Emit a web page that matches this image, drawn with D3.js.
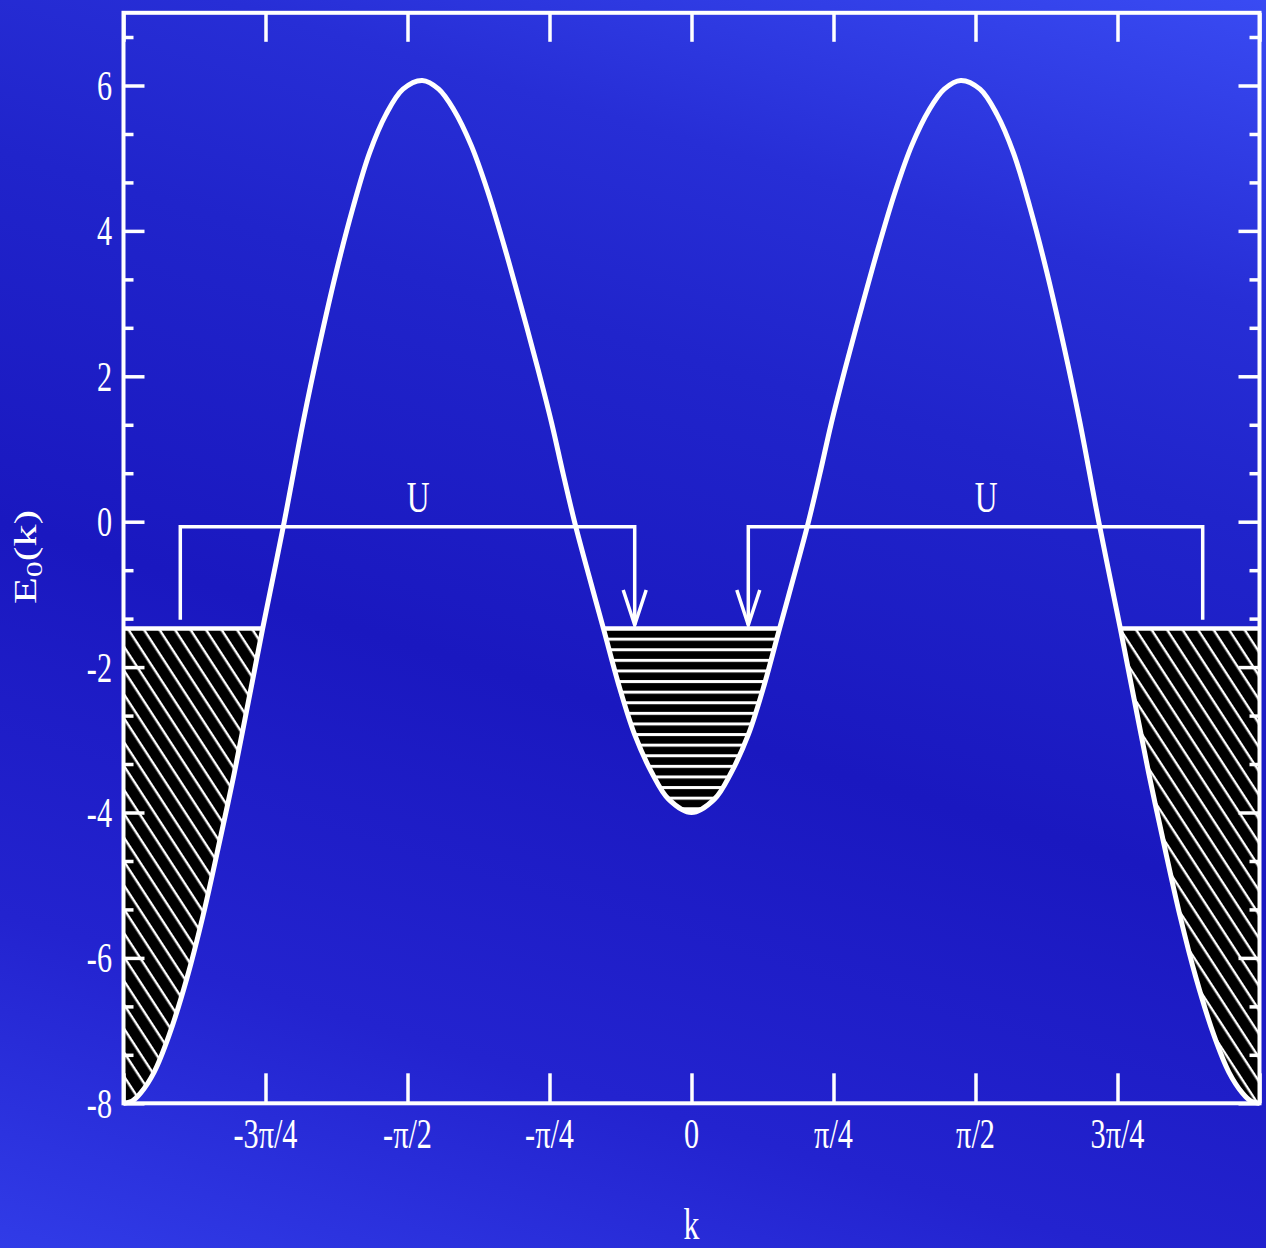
<!DOCTYPE html>
<html>
<head>
<meta charset="utf-8">
<script src="https://cdn.jsdelivr.net/npm/d3@7"></script>
<style>
  html, body { margin: 0; padding: 0; background: #1c1cc4; }
  svg { display: block; }
  text { font-family: "Liberation Serif", "Times New Roman", serif; fill: #ffffff; }
</style>
</head>
<body>
<script>
// Band energy E0(k) over the Brillouin zone, k in units of pi
const kPi = [
  -1, -0.985, -0.97, -0.946, -0.92, -0.888, -0.86, -0.83, -0.805, -0.78, -0.755,
  -0.717, -0.683, -0.656, -0.626, -0.596, -0.567, -0.538, -0.508, -0.474, -0.445,
  -0.418, -0.388, -0.359, -0.33, -0.30, -0.271, -0.246, -0.226, -0.205, -0.18,
  -0.155, -0.126, -0.10, -0.07, -0.04, 0,
  0.04, 0.07, 0.10, 0.126, 0.155, 0.18, 0.205, 0.226, 0.246, 0.271, 0.30, 0.33,
  0.359, 0.388, 0.418, 0.445, 0.474, 0.508, 0.538, 0.567, 0.596, 0.626, 0.656,
  0.683, 0.717, 0.755, 0.78, 0.805, 0.83, 0.86, 0.888, 0.92, 0.946, 0.97, 0.985, 1
];
const energy = [
  -8, -7.97, -7.86, -7.57, -7.07, -6.27, -5.42, -4.37, -3.46, -2.47, -1.47,
  0.00, 1.40, 2.40, 3.42, 4.32, 5.07, 5.60, 5.95, 6.07, 5.95,
  5.66, 5.18, 4.55, 3.80, 2.96, 2.12, 1.35, 0.66, -0.03, -0.76,
  -1.47, -2.30, -2.93, -3.45, -3.82, -4.0,
  -3.82, -3.45, -2.93, -2.30, -1.47, -0.76, -0.03, 0.66, 1.35, 2.12, 2.96, 3.80,
  4.55, 5.18, 5.66, 5.95, 6.07, 5.95, 5.60, 5.07, 4.32, 3.42, 2.40,
  1.40, 0.00, -1.47, -2.47, -3.46, -4.37, -5.42, -6.27, -7.07, -7.57, -7.86, -7.97, -8
];

// Filling level of the occupied states
const fillLevel = -1.47;

// Pair-hopping brackets: tail end, arrow end, height of the bar, tail bottom, arrow tip
const bracketTailK = [-0.9, 0.9];
const bracketHeadK = [-0.1, 0.1];
const bracketE = -0.07;
const bracketTailE = -1.35;
const bracketTipE = -1.42;
const bracketLabel = ["U", "U"];
const bracketLabelK = [-0.481, 0.519];

// Axes
const xTickValues = [-1, -0.75, -0.5, -0.25, 0, 0.25, 0.5, 0.75, 1];
const xTickLabels = ["", "-3π/4", "-π/2", "-π/4", "0", "π/4", "π/2", "3π/4", ""];
const yMajorValues = [-8, -6, -4, -2, 0, 2, 4, 6];
const yMajorLabels = ["-8", "-6", "-4", "-2", "0", "2", "4", "6"];
const yMinorValues = [-7.333, -6.667, -5.333, -4.667, -3.333, -2.667, -1.333, -0.667,
                      0.667, 1.333, 2.667, 3.333, 4.667, 5.333, 6.667];
const xTitle = "k";

const W = 1266, H = 1248;
const squeeze = 0.72;   // condensed glyph width

const x = d3.scaleLinear().domain([-1, 1]).range([123.5, 1259.5]);
const y = d3.scaleLinear().domain([-8, 7]).range([1103.3, 12.8]);

const svg = d3.select("body").append("svg").attr("width", W).attr("height", H);
const defs = svg.append("defs");

// background: dark band running slightly downhill across the page
const bg = defs.append("linearGradient").attr("id", "bg")
  .attr("gradientUnits", "userSpaceOnUse")
  .attr("x1", 500).attr("y1", 1500).attr("x2", 1100).attr("y2", -500);
[[0, "#3543ef"], [0.2, "#2323cf"], [0.38, "#1a18c0"], [0.55, "#2024cb"],
 [0.65, "#272ed6"], [0.8, "#3a4cf4"], [1, "#3f55f8"]]
  .forEach(([o, c]) => bg.append("stop").attr("offset", o).attr("stop-color", c));
svg.append("rect").attr("width", W).attr("height", H).attr("fill", "url(#bg)");

// hatch patterns
const diag = defs.append("pattern").attr("id", "diagHatch")
  .attr("patternUnits", "userSpaceOnUse").attr("width", 13).attr("height", 13)
  .attr("patternTransform", "rotate(57)");
diag.append("rect").attr("width", 13).attr("height", 13).attr("fill", "#000");
diag.append("rect").attr("width", 13).attr("height", 2.4).attr("fill", "#fff");

const horiz = defs.append("pattern").attr("id", "horizHatch")
  .attr("patternUnits", "userSpaceOnUse").attr("width", 20).attr("height", 10.6)
  .attr("y", y(fillLevel) - 1.5);
horiz.append("rect").attr("width", 20).attr("height", 10.6).attr("fill", "#000");
horiz.append("rect").attr("width", 20).attr("height", 3).attr("fill", "#fff");

const pts = kPi.map((k, i) => ({ k, e: energy[i] }));
const curve = d3.curveCatmullRom.alpha(0.5);

// clip regions below the filling level
const clipTop = y(fillLevel) + 1.5;
const outerClip = defs.append("clipPath").attr("id", "outerClip");
outerClip.append("rect").attr("x", x(-1)).attr("y", clipTop)
  .attr("width", x(-0.5) - x(-1)).attr("height", y(-8) - clipTop);
outerClip.append("rect").attr("x", x(0.5)).attr("y", clipTop)
  .attr("width", x(1) - x(0.5)).attr("height", y(-8) - clipTop);
const innerClip = defs.append("clipPath").attr("id", "innerClip");
innerClip.append("rect").attr("x", x(-0.5)).attr("y", clipTop)
  .attr("width", x(0.5) - x(-0.5)).attr("height", y(-8) - clipTop);

// region lying above the band curve
const aboveCurve = d3.area().x(d => x(d.k)).y0(y(7)).y1(d => y(d.e)).curve(curve);
defs.append("clipPath").attr("id", "aboveClip").append("path").attr("d", aboveCurve(pts));

const fillArea = d3.area().x(d => x(d.k)).y0(y(fillLevel)).y1(d => y(d.e)).curve(curve);
svg.append("path").attr("d", fillArea(pts)).attr("fill", "url(#diagHatch)")
  .attr("clip-path", "url(#outerClip)");
svg.append("path").attr("d", fillArea(pts)).attr("fill", "url(#horizHatch)")
  .attr("clip-path", "url(#innerClip)");

// tops of the filled pockets
svg.append("line").attr("x1", x(-1)).attr("x2", x(1))
  .attr("y1", y(fillLevel)).attr("y2", y(fillLevel))
  .attr("stroke", "#fff").attr("stroke-width", 4.5)
  .attr("clip-path", "url(#aboveClip)");

// band curve
const line = d3.line().x(d => x(d.k)).y(d => y(d.e)).curve(curve);
svg.append("path").attr("d", line(pts)).attr("fill", "none")
  .attr("stroke", "#fff").attr("stroke-width", 5).attr("stroke-linejoin", "round");

// frame
svg.append("rect").attr("x", x(-1)).attr("y", y(7))
  .attr("width", x(1) - x(-1)).attr("height", y(-8) - y(7))
  .attr("fill", "none").attr("stroke", "#fff").attr("stroke-width", 4);

// ticks
function tickAxis(axis, tx, ty) {
  const g = svg.append("g").attr("transform", `translate(${tx},${ty})`).call(axis);
  g.select(".domain").remove();
  g.selectAll("text").remove();
  g.selectAll("line").attr("stroke", "#fff").attr("stroke-width", 3.5);
}
tickAxis(d3.axisBottom(x).tickValues(xTickValues).tickSizeInner(-30).tickSizeOuter(0), 0, y(-8));
tickAxis(d3.axisTop(x).tickValues(xTickValues).tickSizeInner(-29).tickSizeOuter(0), 0, y(7));
tickAxis(d3.axisLeft(y).tickValues(yMajorValues).tickSizeInner(-21).tickSizeOuter(0), x(-1), 0);
tickAxis(d3.axisLeft(y).tickValues(yMinorValues).tickSizeInner(-10).tickSizeOuter(0), x(-1), 0);
tickAxis(d3.axisRight(y).tickValues(yMajorValues).tickSizeInner(-21).tickSizeOuter(0), x(1), 0);
tickAxis(d3.axisRight(y).tickValues(yMinorValues).tickSizeInner(-10).tickSizeOuter(0), x(1), 0);

// tick labels
svg.append("g").selectAll("text").data(xTickValues).join("text")
  .attr("transform", d => `translate(${x(d)},1148) scale(${squeeze},1)`)
  .attr("text-anchor", "middle").attr("font-size", 42)
  .text((d, i) => xTickLabels[i]);
svg.append("g").selectAll("text").data(yMajorValues).join("text")
  .attr("transform", d => `translate(112,${y(d) + 14.5}) scale(${squeeze},1)`)
  .attr("text-anchor", "end").attr("font-size", 42)
  .text((d, i) => yMajorLabels[i]);

// axis titles
svg.append("text")
  .attr("transform", `translate(${x(0)},1239) scale(${squeeze},1)`)
  .attr("text-anchor", "middle").attr("font-size", 44).text(xTitle);
const yTitle = svg.append("text")
  .attr("transform", `translate(36,557) scale(${squeeze},1) rotate(-90)`)
  .attr("text-anchor", "middle").attr("font-size", 44);
yTitle.append("tspan").text("E");
yTitle.append("tspan").attr("font-size", 32).attr("dy", 9).text("0");
yTitle.append("tspan").attr("dy", -9).text("(k)");

// interaction brackets with arrows
const bracketG = svg.append("g").attr("fill", "none").attr("stroke", "#fff")
  .attr("stroke-width", 3.5).attr("stroke-linejoin", "miter");
bracketTailK.forEach((tk, i) => {
  const hk = bracketHeadK[i];
  const p = d3.path();
  p.moveTo(x(tk), y(bracketTailE));
  p.lineTo(x(tk), y(bracketE));
  p.lineTo(x(hk), y(bracketE));
  p.lineTo(x(hk), y(bracketTipE));
  bracketG.append("path").attr("d", p.toString());
  const h = d3.path();
  h.moveTo(x(hk) - 11.5, y(bracketTipE) - 35);
  h.lineTo(x(hk), y(bracketTipE));
  h.lineTo(x(hk) + 11.5, y(bracketTipE) - 35);
  bracketG.append("path").attr("d", h.toString());
  svg.append("text")
    .attr("transform", `translate(${x(bracketLabelK[i])},${y(bracketE) - 15}) scale(${squeeze},1)`)
    .attr("text-anchor", "middle").attr("font-size", 44).text(bracketLabel[i]);
});
</script>
</body>
</html>
